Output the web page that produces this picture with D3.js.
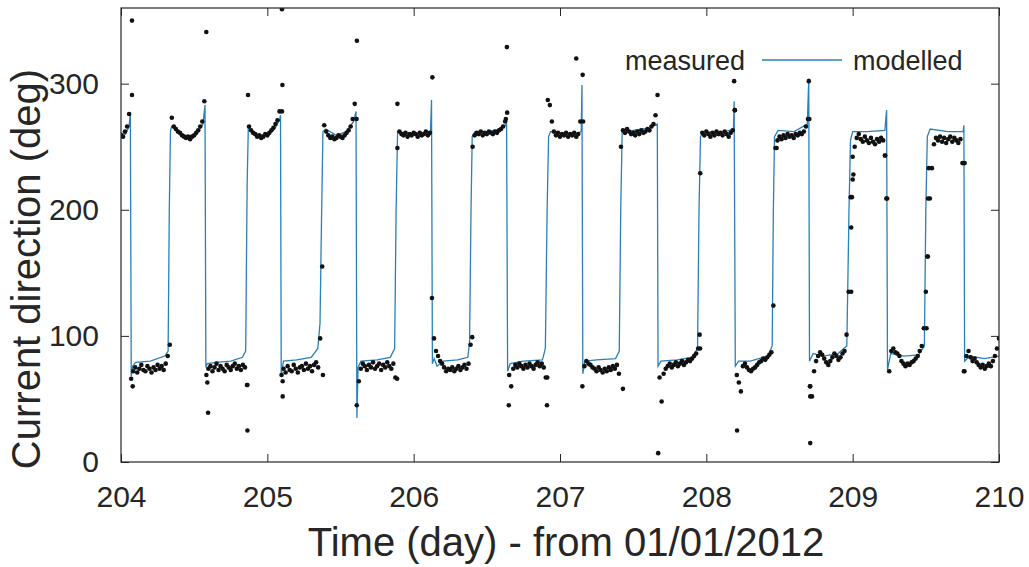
<!DOCTYPE html>
<html>
<head>
<meta charset="utf-8">
<script src="https://cdn.jsdelivr.net/npm/d3@7"></script>
<style>
  body { margin: 0; background: #fff; }
  svg { display: block; font-family: "Liberation Sans", Arial, sans-serif; }
  .tick text { fill: #262626; }
</style>
</head>
<body>
<div id="chart"></div>
<script>
// axis ticks
const xTicks = [204, 205, 206, 207, 208, 209, 210];
const yTicks = [0, 100, 200, 300];

// measured current direction, one sample every 20 min from day 204
const measuredStart = 204;
const measuredStep = 1 / 72;
const measuredDeg = [
  259, 258, 262, 266, 276,
  66, 72, 75, 71, 74, 77, 73, 72, 76, 74, 71, 75, 73, 77, 74, 76, 73, 78, 84,
  93, 273,
  266, 264, 262, 261, 259, 258, 257, 258, 256, 258, 259, 261, 263, 266, 270, 286,
  69, 74, 76, 72, 75, 78, 73, 76, 74, 72, 77, 75, 73, 76, 78, 74, 76, 73, 77, 75, 61,
  266, 263, 261, 260, 258, 259, 257, 258, 260, 259, 261, 263, 265, 268, 271, 278,
  69, 74, 71, 76, 73, 72, 77, 74, 71, 75, 76, 73, 78, 74, 76, 72, 77, 79, 75,
  98, 155,
  267, 262, 259, 257, 258, 256, 257, 259, 258, 257, 259, 261, 263, 266, 272, 284,
  45, 64, 74, 78, 76, 73, 77, 75, 79, 74, 76, 78, 73, 77, 75, 79, 76, 74, 78, 67,
  249, 262, 260, 259, 261, 258, 260, 259, 261, 260, 258, 261, 259, 260, 262, 259, 261,
  130,
  98, 88, 84, 80, 78, 75, 72, 74, 73, 75, 72, 74, 76, 73, 75, 77, 74, 78,
  93, 250, 259, 261, 260, 262, 259, 261, 260, 262, 261, 260, 262, 261, 263, 264, 266, 270, 277,
  69, 60, 74, 77, 75, 78, 76, 74, 77, 75, 78, 76, 74, 77, 79, 76, 78, 75, 67,
  287, 283, 270, 262, 259, 261, 258, 260, 259, 261, 258, 260, 259, 261, 258, 260, 270,
  60, 76, 80, 78, 77, 75, 74, 72, 75, 73, 71, 74, 72, 75, 73, 76, 74, 77, 70,
  250, 263, 261, 264, 262, 260, 261, 259, 262, 260, 263, 261, 262, 264, 263, 266, 268, 275, 291,
  67, 48, 70, 74, 76, 78, 75, 77, 79, 76, 78, 80, 77, 79, 81, 80, 82, 84, 86, 90,
  229,
  261, 259, 262, 260, 258, 261, 259, 262, 260, 261, 259, 262, 260, 258, 261, 263, 279,
  69, 63, 56, 76, 78, 75, 73, 72, 74, 75, 77, 79, 80, 82, 81, 83, 85, 87,
  124,
  249, 255, 258, 256, 259, 257, 260, 258, 259, 257, 260, 259, 261, 260, 262, 266, 272,
  60, 52, 72, 80, 84, 87, 85, 82, 79, 77, 80, 83, 86, 84, 81, 83, 86, 88, 101,
  135, 210, 242,
  250, 257, 260, 256, 254, 258, 255, 253, 257, 254, 252, 256, 254, 257, 255, 243, 209,
  72, 88, 90, 87, 86, 84, 80, 78, 76, 78, 77, 79, 80, 82, 84, 88, 92, 106,
  135, 163, 209,
  233, 252, 257, 255, 258, 254, 257, 253, 256, 258, 254, 257, 255, 253, 256, 237,
  72, 84, 88, 83, 80, 82, 79, 77, 75, 77, 74, 76, 78, 76, 80, 84, 90, 98
];

// scattered measured points off the main sampling
const outlierDay = [204.075, 204.075, 204.08, 204.583, 204.59, 204.595, 204.864, 204.868, 204.864,
  205.100, 205.103, 205.100, 205.105, 205.105, 205.38, 205.612, 205.61, 205.889, 205.887,
  206.128, 206.40, 206.637, 206.63, 206.65, 206.911, 206.913, 207.111, 207.155, 207.158,
  207.43, 207.671, 207.954, 207.957, 208.19, 208.195, 208.21, 208.48, 208.70, 208.704,
  208.71, 208.71, 208.71, 208.99, 208.99, 208.995, 209.0, 209.005, 209.22, 209.23,
  209.505, 209.51, 209.515, 209.52, 209.76, 209.765];
const outlierDeg = [350, 291, 60, 341, 63, 39, 25, 291, 61,
  359, 299, 278, 64, 52, 69, 334, 272, 284, 66,
  305, 99, 329, 272, 45, 45, 67, 320, 307, 270,
  58, 7, 101, 90, 302, 279, 25, 249, 302, 272,
  15, 60, 52, 135, 186, 210, 224, 228, 243, 209,
  106, 163, 209, 233, 72, 237];

// modelled current direction
const modelledDay = [204.000, 204.030, 204.055, 204.064, 204.070, 204.080, 204.100, 204.200, 204.300, 204.322, 204.330, 204.338, 204.345,
  204.400, 204.460, 204.520, 204.560, 204.574, 204.580, 204.590, 204.650, 204.750, 204.830, 204.852, 204.862, 204.870,
  204.930, 204.990, 205.050, 205.085, 205.090, 205.095, 205.110, 205.200, 205.300, 205.345, 205.360, 205.370, 205.380,
  205.400, 205.470, 205.540, 205.590, 205.606, 205.612, 205.620, 205.640, 205.750, 205.840, 205.870, 205.880, 205.890,
  205.950, 206.050, 206.115, 206.122, 206.128, 206.140, 206.160, 206.200, 206.300, 206.370, 206.382, 206.392, 206.400,
  206.420, 206.500, 206.600, 206.635, 206.642, 206.660, 206.750, 206.880, 206.900, 206.912, 206.922, 206.935,
  207.000, 207.100, 207.145, 207.150, 207.156, 207.170, 207.250, 207.380, 207.405, 207.415, 207.425,
  207.500, 207.620, 207.665, 207.670, 207.690, 207.800, 207.900, 207.940, 207.950, 207.960, 207.980,
  208.100, 208.185, 208.190, 208.198, 208.220, 208.300, 208.420, 208.450, 208.458, 208.466, 208.490,
  208.600, 208.690, 208.700, 208.705, 208.730, 208.800, 208.900, 208.960, 208.975, 208.985, 209.000,
  209.100, 209.220, 209.232, 209.238, 209.260, 209.350, 209.450, 209.490, 209.500, 209.510, 209.530,
  209.650, 209.755, 209.760, 209.765, 209.800, 209.900, 210.000];
const modelledDeg = [261, 260, 266, 277, 68, 76, 79, 80, 84, 88, 200, 262, 266,
  261, 258, 261, 268, 283, 75, 78, 79, 80, 83, 88, 220, 265,
  260, 259, 264, 272, 275, 68, 80, 81, 83, 90, 110, 190, 262,
  264, 259, 262, 270, 278, 35, 75, 80, 81, 83, 90, 200, 262,
  261, 260, 262, 287, 78, 82, 76, 80, 81, 83, 95, 200, 258,
  262, 262, 264, 268, 72, 78, 80, 81, 90, 200, 258, 262,
  261, 260, 262, 299, 70, 80, 81, 82, 88, 200, 262,
  263, 265, 268, 76, 80, 81, 83, 90, 200, 258, 262,
  261, 264, 286, 76, 80, 80, 84, 92, 200, 258, 263,
  262, 268, 304, 80, 86, 84, 86, 92, 200, 255, 262,
  262, 263, 279, 73, 86, 84, 85, 92, 200, 258, 264,
  262, 262, 267, 80, 84, 82, 84];

const width = 1029, height = 567;
const margin = {top: 8, right: 30, bottom: 105, left: 121};
const textColor = "#262626";

const svg = d3.select("#chart").append("svg")
  .attr("width", width)
  .attr("height", height);

const x = d3.scaleLinear().domain([204, 210]).range([margin.left, width - margin.right]);
const y = d3.scaleLinear().domain([0, 360]).range([height - margin.bottom, margin.top]);

svg.append("clipPath").attr("id", "plotclip")
  .append("rect")
  .attr("x", margin.left).attr("y", margin.top)
  .attr("width", width - margin.left - margin.right)
  .attr("height", height - margin.top - margin.bottom);

const plot = svg.append("g").attr("clip-path", "url(#plotclip)");

// modelled line
const modelled = modelledDay.map((d, i) => [d, modelledDeg[i]]);
plot.append("path")
  .datum(modelled)
  .attr("fill", "none")
  .attr("stroke", "#2a80b9")
  .attr("stroke-width", 1.3)
  .attr("d", d3.line().x(d => x(d[0])).y(d => y(d[1])));

// measured dots
let measured = measuredDeg.map((v, i) => [measuredStart + i * measuredStep, v]);
measured = measured.concat(outlierDay.map((d, i) => [d, outlierDeg[i]]));
plot.append("g").selectAll("circle")
  .data(measured)
  .enter().append("circle")
  .attr("cx", d => x(d[0]))
  .attr("cy", d => y(d[1]))
  .attr("r", 2.3)
  .attr("fill", "#111");

// axes, ticks pointing inward
const tickLen = 8;
const xAxis = svg.append("g")
  .attr("transform", "translate(0," + (height - margin.bottom) + ")")
  .call(d3.axisBottom(x).tickValues(xTicks).tickFormat(d3.format("d")).tickSizeInner(-tickLen).tickSizeOuter(0).tickPadding(24));
const yAxis = svg.append("g")
  .attr("transform", "translate(" + margin.left + ",0)")
  .call(d3.axisLeft(y).tickValues(yTicks).tickSizeInner(-tickLen).tickSizeOuter(0).tickPadding(22));
const xTop = svg.append("g")
  .attr("transform", "translate(0," + margin.top + ")")
  .call(d3.axisTop(x).tickValues(xTicks).tickFormat("").tickSizeInner(-tickLen).tickSizeOuter(0));
const yRight = svg.append("g")
  .attr("transform", "translate(" + (width - margin.right) + ",0)")
  .call(d3.axisRight(y).tickValues(yTicks).tickFormat("").tickSizeInner(-tickLen).tickSizeOuter(0));

[xAxis, yAxis, xTop, yRight].forEach(g => {
  g.select(".domain").remove();
  g.selectAll(".tick line").attr("stroke", textColor).attr("stroke-width", 1);
  g.selectAll(".tick text").attr("font-size", 30).attr("fill", textColor);
});
xAxis.selectAll(".tick text").attr("dy", "0.71em");

// box
svg.append("rect")
  .attr("x", margin.left).attr("y", margin.top)
  .attr("width", width - margin.left - margin.right)
  .attr("height", height - margin.top - margin.bottom)
  .attr("fill", "none")
  .attr("stroke", textColor)
  .attr("stroke-width", 1.2);

// axis labels
svg.append("text")
  .attr("x", x(207) + 6)
  .attr("y", 556)
  .attr("text-anchor", "middle")
  .attr("font-size", 40)
  .attr("fill", textColor)
  .text("Time (day) - from 01/01/2012");

svg.append("text")
  .attr("transform", "translate(40," + y(153) + ") rotate(-90)")
  .attr("text-anchor", "middle")
  .attr("font-size", 40)
  .attr("fill", textColor)
  .text("Current direction (deg)");

// legend
const legend = svg.append("g").attr("font-size", 27).attr("fill", textColor);
legend.append("text").attr("x", 625).attr("y", 70).text("measured");
legend.append("line")
  .attr("x1", 762).attr("x2", 842).attr("y1", 60).attr("y2", 60)
  .attr("stroke", "#2a80b9").attr("stroke-width", 1.3);
legend.append("text").attr("x", 853).attr("y", 70).text("modelled");
</script>
</body>
</html>
